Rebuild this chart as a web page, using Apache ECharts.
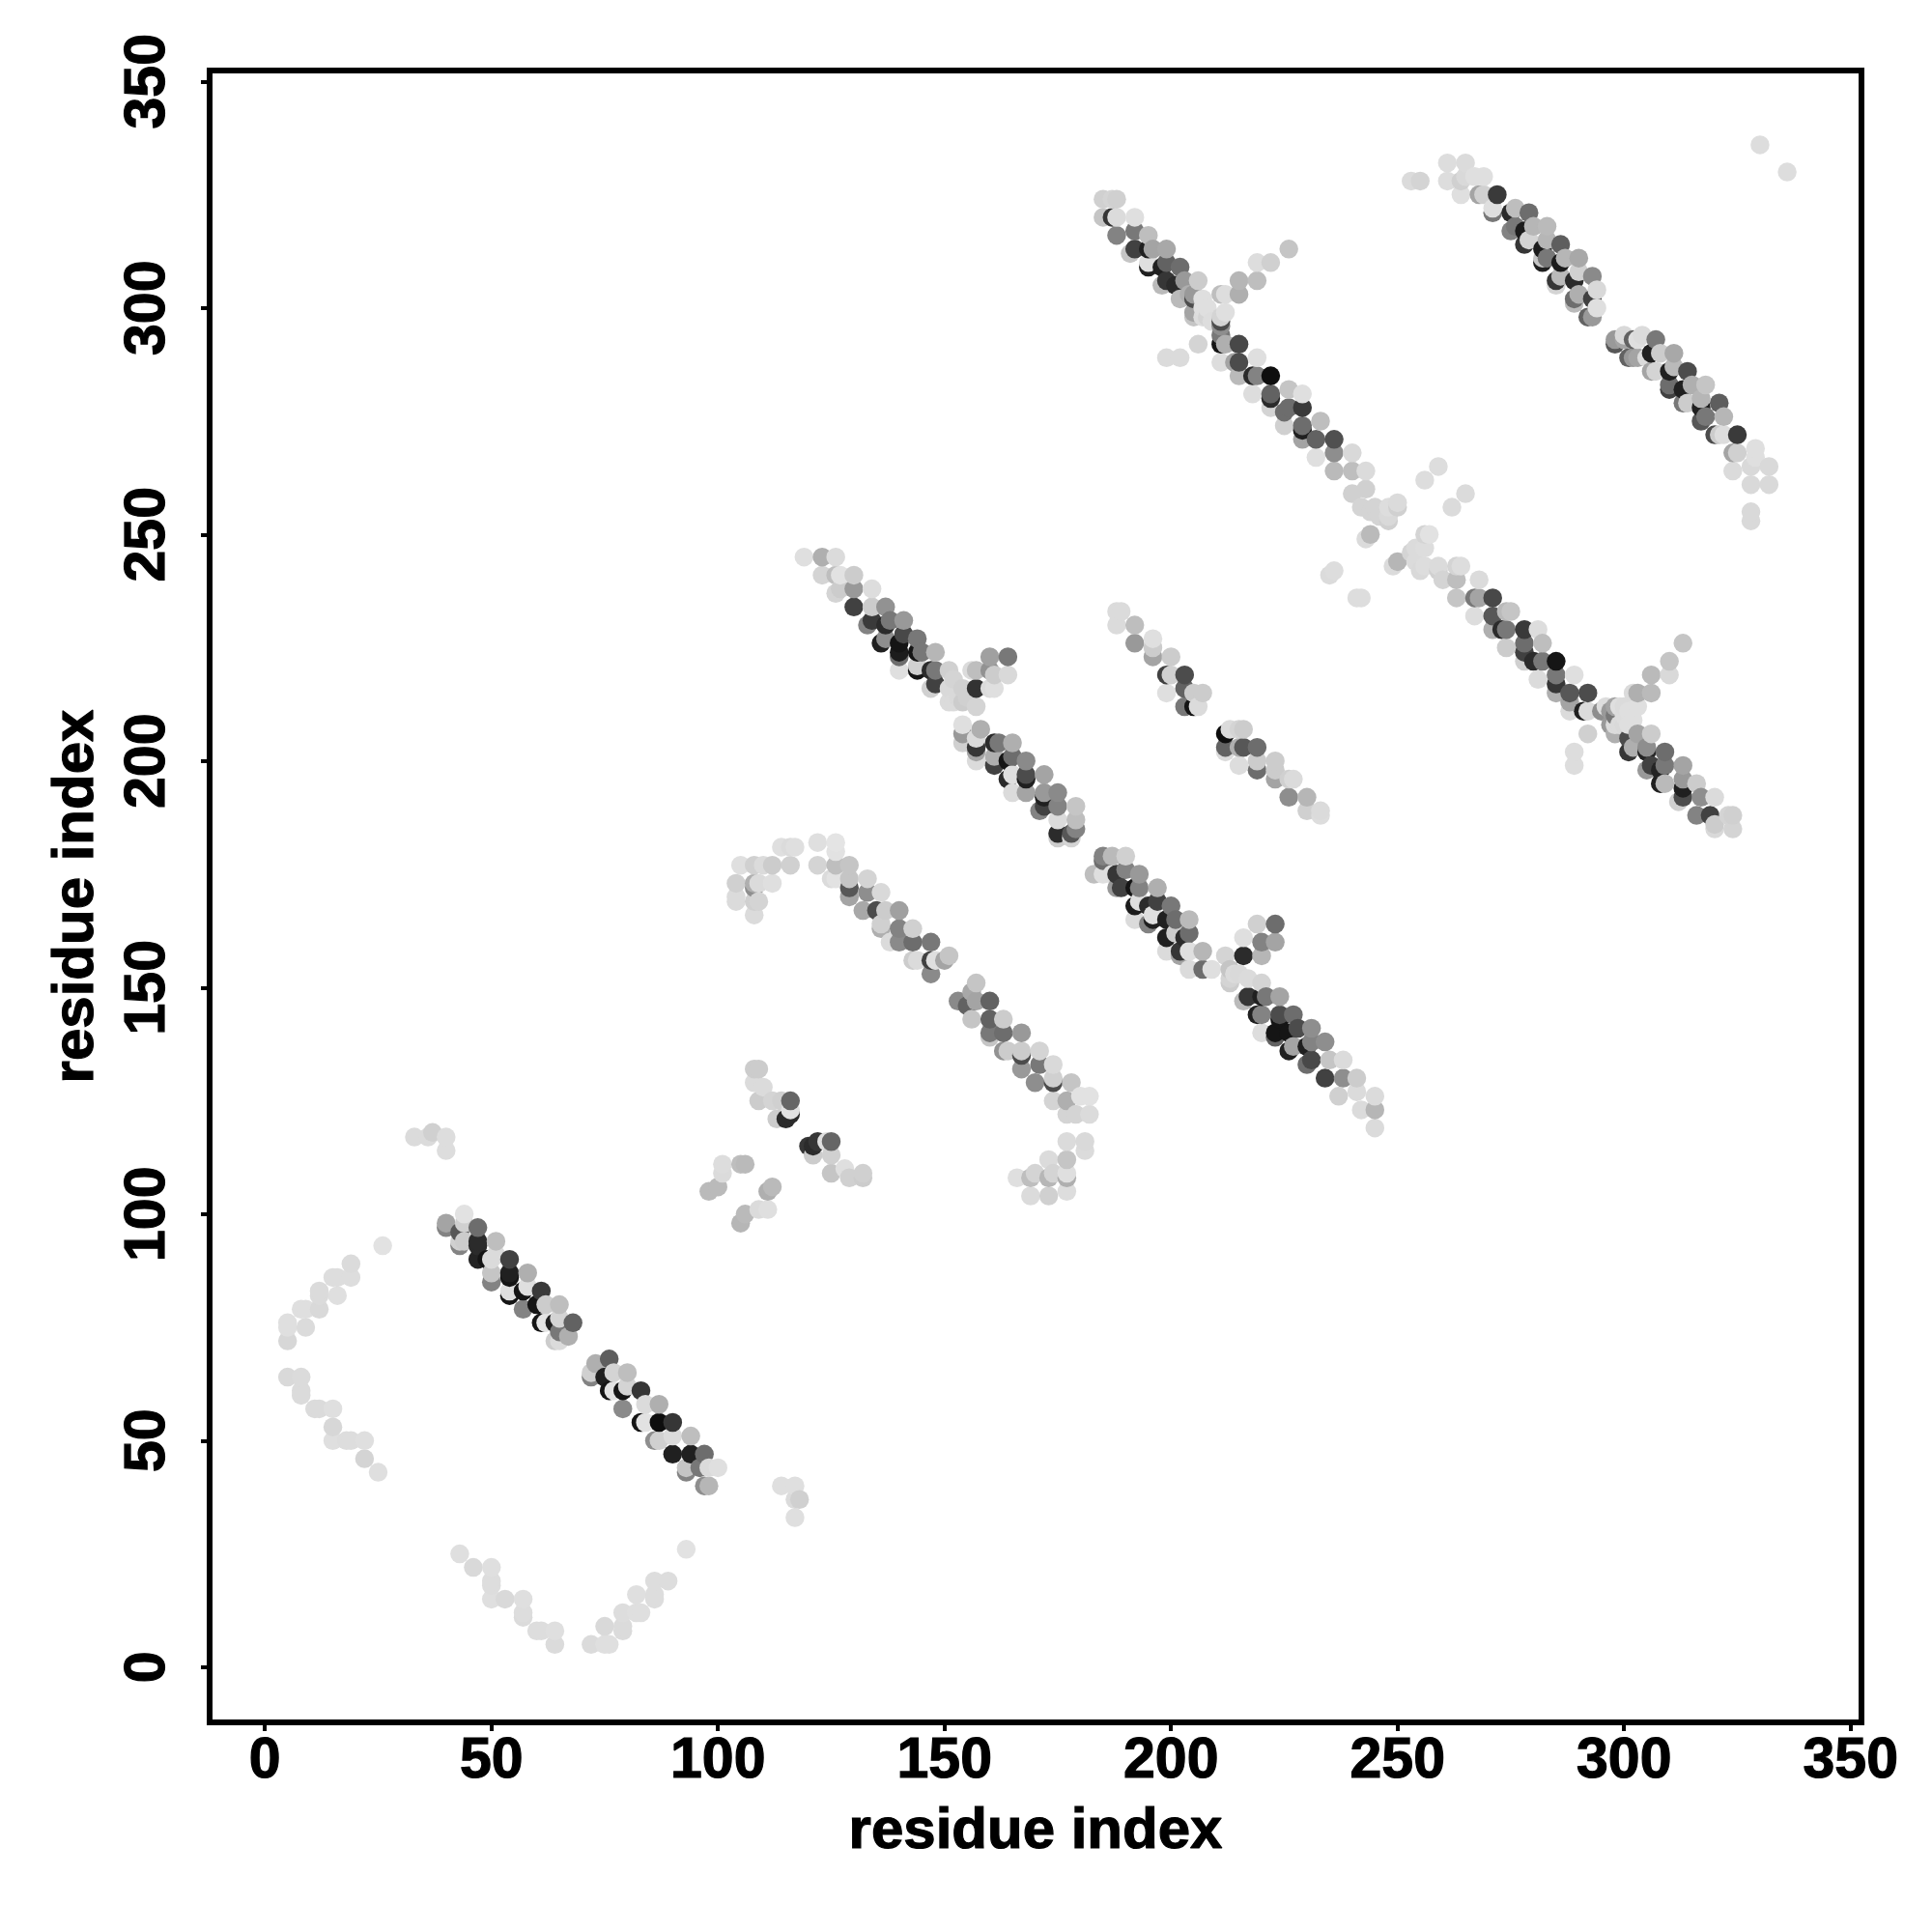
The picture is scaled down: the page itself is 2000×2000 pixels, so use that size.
<!DOCTYPE html>
<html><head><meta charset="utf-8">
<script src="https://cdn.jsdelivr.net/npm/echarts@6/dist/echarts.min.js"></script>
<style>html,body{margin:0;padding:0;background:#fff}#c{width:2000px;height:2000px}</style>
</head><body><div id="c"></div>
<script>
// each point: [residue i, residue j, score 0-100]
const tickValues = [0,50,100,150,200,250,300,350];
const axisTitle = 'residue index';
const arcs = [[33,117,5],[36,117,5],[37,118,10],[40,117,4],[40,114,4],
[19,89,5],[19,86,4],[15,86,4],[16,86,4],[16,82,3],[12,83,5],[12,82,5],[12,79,6],[9,79,3],[8,79,3],[9,75,5],[5,76,3],[5,75,3],[5,72,7],[26,93,2],
[5,64,6],[8,64,5],[8,61,5],[8,60,5],[11,57,5],[12,57,5],[15,57,3],[15,53,7],[15,50,3],[18,50,4],[19,50,4],[22,50,3],[22,46,8],[25,43,3],
[43,25,3],[46,22,6],[50,22,3],[50,19,4],[50,18,4],[50,15,3],[53,15,6],[57,15,3],[57,12,4],[57,11,5],[60,8,4],[61,8,4],[64,8,3],[64,5,5],[72,5,5],[75,9,6],[75,5,3],[76,5,3],[79,12,4],[79,9,5],[79,8,5],[82,16,3],[82,12,3],[83,12,3],[86,19,4],[86,16,4],[86,15,4],[89,19,4],[93,26,2],
[114,40,3],[117,40,3],[118,37,10],[117,37,5],[117,33,3]];
const helixA = [[40,97,45],[40,98,30],[43,93,45],[43,94,10],[43,96,65],[44,94,12],[44,98,10],[44,100,2],[47,90,88],[47,93,85],[47,94,85],[47,97,55],[49,90,95],[50,85,45],[50,87,15],[50,90,5],[51,91,5],[51,94,18],[54,82,95],[54,83,3],[54,86,95],[54,87,90],[54,90,75],[57,79,45],[57,83,95],[58,84,3],[58,87,25],[60,80,95],[61,76,95],[61,83,78],[62,76,1],[62,80,12],[64,72,12],[64,76,90],[65,72,5],[65,74,50],[65,77,8],[65,80,18],[67,73,25],[68,76,60],
[72,64,45],[72,65,10],[73,67,25],[75,64,90],[76,61,95],[76,68,62],[77,61,2],[77,65,8],[79,57,42],[79,61,95],[80,62,8],[80,65,18],[83,54,95],[83,61,80],[84,54,2],[84,58,5],[86,50,40],[87,50,10],[87,54,98],[87,58,25],[90,47,90],[90,51,5],[90,54,80],[93,43,45],[93,44,15],[94,47,90],[94,51,18],[96,44,50],[97,40,40],[97,47,55],[98,40,22],[98,44,5],[100,44,3]];
const clusterB = [[98,105,20],[100,106,20],[101,109,5],[101,111,4],[105,111,18],[106,111,20],[105,98,22],[106,100,20],[109,101,5],[111,101,3],[111,105,25],[112,106,20],
[108,129,5],[108,132,12],[109,125,12],[109,132,12],[110,128,5],[112,125,8],[113,121,12],[114,125,10],[115,121,85],[116,122,85],[116,123,2],[116,125,58],
[120,115,80],[121,113,12],[121,115,85],[122,116,80],[124,116,3],[125,109,15],[125,113,10],[125,116,58],[128,110,3],[129,108,10],[132,108,12],[132,109,10],
[104,169,5],[104,170,5],[104,173,10],[105,177,3],[108,166,5],[108,169,10],[108,172,40],[108,173,25],[108,177,10],[109,169,8],[109,173,5],[110,177,5],[112,173,3],[112,177,12],[114,181,3],[116,177,10],[116,181,5],[117,181,3]];
const bandC = [[122,177,8],[122,182,3],[125,174,5],[126,174,2],[126,177,18],[126,180,2],[126,182,1],[129,170,30],[129,172,65],[129,174,15],[129,177,15],[132,167,28],[133,171,40],[133,174,8],[135,167,70],[136,163,25],[136,164,10],[136,171,6],[137,167,12],[138,160,5],[140,160,42],[140,163,45],[140,167,32],[143,156,12],[143,160,55],[143,163,10],[144,156,5],[147,153,42],[147,156,75],[147,160,50],[148,156,3],[150,156,30],[151,157,15],
[153,147,42],[155,146,60],[156,143,15],[156,149,28],[157,147,30],[157,151,15],[160,139,15],[160,140,50],[160,143,60],[160,147,60],[163,136,38],[163,140,55],[163,143,12],[164,136,12],[167,132,35],[167,135,70],[167,136,12],[167,140,35],[170,129,40],[171,133,50],[171,136,8],[174,125,8],[174,129,70],[174,130,10],[174,133,6],[177,122,8],[177,125,25],[178,129,15],[179,122,8],[180,126,2],[182,122,5],[182,126,2],
[166,108,3],[169,104,5],[169,108,18],[170,109,8],[173,104,10],[173,108,22],[173,112,5],[174,109,8],[177,105,4],[177,108,25],[177,109,3],[177,112,15],[177,116,5],[181,114,5],[181,116,6]];
const bandD = [[119,245,3],[123,241,8],[123,245,25],[126,237,8],[126,241,18],[126,245,5],[127,238,12],[127,241,2],[130,234,75],[130,238,35],[130,241,12],[133,230,45],[134,231,78],[134,234,12],[134,238,4],[136,226,90],[137,227,40],[137,230,85],[137,234,38],[138,231,50],[140,220,3],[140,223,55],[140,224,92],[140,226,95],[141,228,72],[141,231,35],[144,220,95],[144,221,10],[144,224,95],[144,227,50],[145,224,50],[147,216,10],[147,220,85],[148,217,75],[148,220,50],[148,224,22],[151,213,5],[151,216,6],[151,220,10],[152,218,8],[152,213,5],[153,214,6],[154,213,12],[154,216,10],[155,214,10],[156,220,5],[157,212,8],[157,216,82],[157,220,18],[160,216,5],[160,220,38],[160,223,32],[161,216,3],[161,219,12],[164,219,6],[164,223,50],
[154,204,10],[154,206,35],[154,208,3],[157,200,5],[157,202,30],[157,203,80],[157,205,5],[158,207,25],[161,199,75],[161,201,25],[161,204,85],[162,204,50],[164,196,85],[164,200,95],[165,193,5],[165,197,3],[165,201,55],[165,204,25],[168,193,30],[168,196,90],[168,197,70],[168,200,42],[171,189,45],[172,190,75],[172,192,90],[172,193,35],[172,197,30],[175,183,12],[175,184,85],[175,187,5],[175,190,45],[175,193,42],[178,183,8],[178,184,65],[179,185,45],[179,187,18],[179,190,15],
[188,230,5],[188,233,5],[189,233,5],[192,226,35],[192,230,18],[196,223,30],[196,225,12],[196,227,3],[199,215,3],[199,219,75],[200,219,10],[200,223,12],[203,212,50],[203,216,60],[203,219,70],[205,212,95],[205,215,12],[206,212,5],[207,215,12]];
const bandI = [[212,202,5],[212,203,60],[212,206,98],[213,207,5],[215,199,4],[215,203,25],[215,207,8],[216,203,65],[216,207,12],[219,198,55],[219,200,12],[219,203,55],[223,196,30],[223,198,12],[223,200,12],[226,192,40],[226,196,10],[227,196,5],[230,189,10],[230,192,22],[233,188,4],[233,189,5]];
const bandE = [[183,175,18],[185,175,3],[185,178,55],[185,179,45],[187,175,3],[187,179,20],[188,172,35],[188,175,80],[189,172,75],[190,176,45],[190,179,10],[192,165,5],[192,168,92],[192,172,95],[193,169,3],[193,172,45],[193,175,35],[195,164,45],[195,168,85],[196,165,90],[196,166,3],[197,169,75],[197,172,25],[199,158,5],[199,161,90],[199,165,90],[200,168,50],[201,162,12],[201,165,55],[202,157,30],[202,158,80],[203,161,85],[204,154,5],[204,158,3],[204,162,55],[204,165,20],[207,154,55],[207,158,22],[209,154,3],
[212,157,8],[213,151,12],[213,152,8],[213,154,15],[214,153,5],[215,153,6],[216,147,20],[216,157,85],[216,161,3],[217,148,80],[217,152,5],[219,144,90],[219,164,10],[220,140,4],[220,144,45],[220,148,90],[220,151,8],[220,157,22],[220,160,45],[221,148,50],[223,139,60],[223,140,95],[223,160,30],[223,164,55],[224,143,95],[224,144,70],[224,148,30],[226,136,90],[226,140,95],[227,137,30],[227,144,55],[228,141,70],[230,133,55],[230,137,90],[231,134,72],[231,138,45],[231,141,40],[234,130,75],[234,138,40],[235,134,15],[237,126,10],[238,130,40],[238,134,5],[241,127,5],[241,130,12],[242,123,5],[245,119,5],[245,123,22],[245,126,5]];
const bandF = [[185,320,15],[185,324,10],[187,320,80],[187,324,8],[188,316,45],[188,320,5],[188,324,10],[191,312,15],[192,313,75],[192,317,50],[192,320,3],[195,309,90],[195,310,3],[195,313,90],[195,316,18],[196,313,30],[198,305,20],[198,309,90],[199,306,80],[199,310,60],[199,313,28],[201,305,85],[202,302,20],[202,309,55],[203,306,35],[204,303,25],[205,298,15],[205,299,30],[205,302,70],[205,303,35],[206,292,8],[206,306,12],[207,298,4],[207,300,3],[207,302,3],[208,298,8],[208,300,3],[209,297,4],[199,289,5],[202,289,5],
[211,288,4],[211,292,95],[211,294,50],[211,296,40],[211,297,70],[211,298,8],[211,303,18],[212,292,25],[212,299,3],[212,303,4],[214,288,30],[215,285,20],[215,288,70],[215,292,72],[215,303,25],[215,306,22],[218,281,4],[218,285,85],[219,285,45],[219,289,3],[219,306,18],[219,310,4],[222,278,8],[222,280,85],[222,281,60],[222,285,98],[222,310,10],[225,274,10],[225,277,55],[226,278,55],[226,282,15],[226,313,15],[229,271,30],[229,273,90],[229,274,55],[229,278,78],[229,281,3],[232,267,3],[232,271,60],[233,275,18],[236,264,20],[236,268,40],[236,271,68],[240,259,10],[240,264,18],[240,268,6],[242,256,8],[243,249,5],[243,260,10],[243,264,5],[244,250,20],[244,255,8],[245,256,8],[246,254,8],[248,253,10],[248,254,6],[248,256,4],[250,256,10],[250,257,5],
[236,242,4],[235,241,5],[256,262,4],[259,265,4],[262,256,5],[265,259,5]];
const bandG = [[241,236,4],[242,236,4],[249,243,5],[250,244,22],[253,246,8],[254,247,5],[254,244,5],[255,242,6],[256,243,4],[256,247,4],[256,250,8],[257,250,2],[259,242,10],[259,243,5],[260,240,8],[263,236,15],[263,240,18],[263,243,8],[264,243,4],[267,232,4],[267,236,50],[268,236,30],[268,240,5],[271,229,25],[271,232,65],[271,236,72],[273,229,85],[274,225,12],[274,229,50],[274,233,20],[275,233,15],[278,222,10],[278,224,75],[278,226,55],[278,229,78],[280,222,85],[281,218,5],[281,229,4],[282,222,50],[282,226,18],[285,215,25],[285,217,80],[285,219,50],[285,222,95],[288,211,5],[288,213,30],[288,215,65],[289,199,4],[289,202,4],[289,219,3],[291,211,90],[292,206,10],[292,211,5],[292,215,70],
[295,211,40],[296,212,4],[297,208,35],[297,211,35],[298,206,25],[298,208,5],[298,210,50],[298,212,30],[299,208,5],[299,212,3],[300,208,6],[300,210,4],[300,212,5],[301,202,80],[301,205,70],[301,208,3],[301,211,3],[302,203,25],[302,209,3],[302,215,5],[303,206,30],[303,212,3],[303,215,25],[305,198,35],[305,202,88],[305,203,40],[306,199,75],[306,206,12],[306,215,20],[306,219,20],[308,195,90],[308,198,88],[309,195,20],[309,199,50],[309,202,55],[310,219,6],[310,222,15],[312,191,10],[313,192,70],[313,194,90],[313,196,35],[313,199,30],[313,226,15],[316,188,45],[316,195,12],[317,192,40],[319,188,75],[320,185,6],[320,186,12],[320,192,5],[323,188,8],[324,185,8],[324,188,10]];
const bandH = [[330,336,4],[336,330,4],[253,328,5],[255,328,8],[261,328,4],[261,332,4],[264,325,3],[264,328,10],[265,329,6],[265,332,5],[267,329,3],[268,325,30],[269,325,10],[269,329,3],[271,321,50],[271,322,3],[272,325,78],[275,317,45],[275,321,85],[276,318,50],[276,322,18],[278,314,80],[278,317,92],[279,315,8],[279,321,55],[280,318,22],[282,310,90],[282,311,15],[282,313,92],[283,311,50],[283,315,22],[283,318,20],[285,305,8],[285,306,80],[286,307,20],[286,310,92],[286,314,62],[287,311,22],[289,301,20],[289,302,55],[289,306,85],[290,303,25],[290,308,10],[290,311,28],[292,298,60],[293,298,35],[293,302,75],[293,307,42],[294,300,3],[294,304,6],
[298,292,65],[298,293,35],[300,293,30],[300,294,6],[301,289,60],[302,289,35],[302,293,60],[303,289,30],[303,293,3],[304,294,5],[305,289,5],[306,286,30],[306,290,90],[307,286,8],[307,293,50],[308,290,12],[310,282,75],[310,283,55],[310,286,90],[311,287,20],[311,290,28],[313,279,50],[313,282,90],[314,279,12],[314,286,70],[315,283,25],[317,275,65],[317,278,90],[317,280,22],[318,276,50],[318,283,15],[320,272,70],[321,272,12],[321,279,62],[322,272,4],[322,276,22],[324,264,5],[324,268,30],[325,268,10],[325,272,78],[328,253,6],[328,255,6],[328,261,6],[328,265,6],[329,267,3],[329,269,3],[332,261,6],[332,265,6]];

const points = [].concat(arcs, helixA, clusterB, bandC, bandD, bandI, bandE, bandF, bandG, bandH)
  .sort((a,b)=> a[0]-b[0] || a[1]-b[1]);
const shade = s => { const g = Math.round(230 - 2.2*s); return `rgb(${g},${g},${g})`; };
const font = {color:'#000',fontFamily:'"Liberation Sans",Arial,sans-serif',fontWeight:'bold',fontSize:59,textBorderColor:'#000',textBorderWidth:1.2};
const axisBase = {
  type:'value', min:-12.2, max:352.4, name:axisTitle, nameLocation:'middle',
  nameTextStyle:{...font,fontSize:60},
  axisLine:{show:false,onZero:false},
  splitLine:{show:false},
  axisTick:{show:true,length:9,lineStyle:{color:'#000',width:4},customValues:tickValues},
};
const chart = echarts.init(document.getElementById('c'),null,{renderer:'canvas'});
chart.setOption({
  animation:false, backgroundColor:'#fff',
  grid:{show:true,left:217,top:73,width:1710,height:1710,borderColor:'#000',borderWidth:6,backgroundColor:'transparent',containLabel:false},
  xAxis:{...axisBase,nameGap:83,axisLabel:{...font,margin:11,customValues:tickValues,hideOverlap:false}},
  yAxis:{...axisBase,nameGap:108,axisLabel:{...font,margin:34,rotate:90,customValues:tickValues,hideOverlap:false}},
  series:[{type:'scatter',symbol:'circle',symbolSize:19.5,progressive:0,large:false,data:points,
    itemStyle:{opacity:1,color:p=>shade(p.value[2])}}]
});
</script></body></html>
